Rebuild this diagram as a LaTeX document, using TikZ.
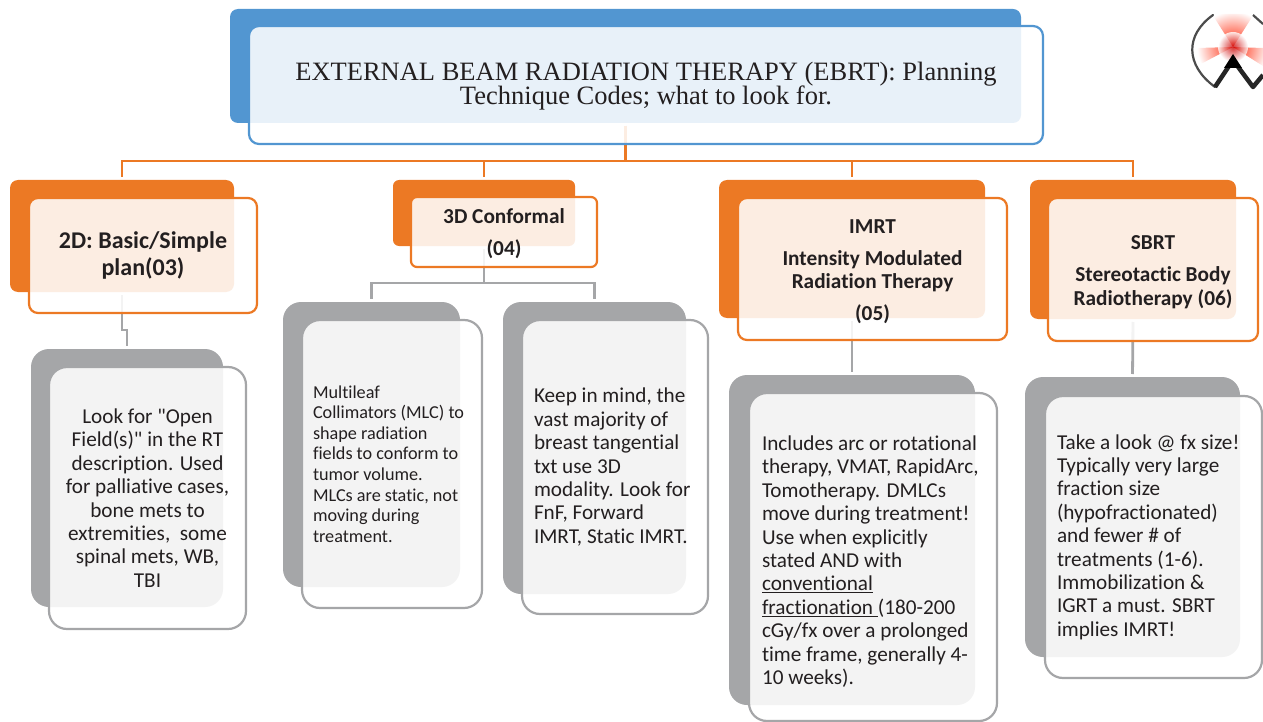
\documentclass[tikz,border=0pt]{standalone}
\usepackage{fontspec}
\newfontfamily\bodyfont[Ligatures=NoCommon,WordSpace={0.65,0,0}]{Carlito}
\newfontfamily\headfont[Ligatures=NoCommon,WordSpace={1,0,0}]{Carlito}
\newfontfamily\titlefont{Liberation Serif}
\definecolor{planblue}{HTML}{5296D1}
\definecolor{planorange}{HTML}{EC7924}
\definecolor{plangrey}{HTML}{A5A6A8}
\definecolor{plantext}{HTML}{231F20}
\tikzset{
  span/.style args={#1/#2/#3/#4}{at={({(#1+#3)/2},{(#2+#4)/2})},
    minimum width={#3-#1}, minimum height={#4-#2}},
  backbox/.style={inner sep=0pt, outer sep=0pt, rounded corners=#1},
  frontbox/.style={inner sep=0pt, outer sep=0pt, fill=white, fill opacity=.87,
    text opacity=1, draw opacity=1, line width=2.2pt, text=plantext},
  headtext/.style={font=\headfont\fontsize{21.3}{23.5}\selectfont\bfseries, align=center},
  bodytext/.style={font=\bodyfont\fontsize{21.2}{23.4}\selectfont},
  link/.style={line width=2.8pt, shorten <=3pt, shorten >=3pt}
}
\begin{document}
\begin{tikzpicture}[x=1pt,y=-1pt]
\useasboundingbox (0,0) rectangle (1263,722);
% Solid boxes at the back
\node[backbox=8pt,fill=planblue,span=230/9/1021/123] (titleback) {};
\node[backbox=8pt,fill=planorange,span=10/180/234/292] (basicback) {};
\node[backbox=6pt,fill=planorange,span=393/180/575/246] (confback) {};
\node[backbox=8pt,fill=planorange,span=719/180/985/318] (imrtback) {};
\node[backbox=8pt,fill=planorange,span=1030/180/1236/319] (sbrtback) {};
\node[backbox=18pt,fill=plangrey,span=31/349/223/607] (openback) {};
\node[backbox=18pt,fill=plangrey,span=283/302/460/587] (mlcback) {};
\node[backbox=18pt,fill=plangrey,span=503/302/686/594] (keepback) {};
\node[backbox=18pt,fill=plangrey,span=729/375/975/705] (arcback) {};
\node[backbox=18pt,fill=plangrey,span=1025/377/1240/657] (fxback) {};
% Connectors run under the front boxes
\draw[link,planorange] (titleback.south) -- ++(0,38) -| (basicback.north);
\draw[link,planorange] (titleback.south) -- ++(0,38) -| (confback.north);
\draw[link,planorange] (titleback.south) -- ++(0,38) -| (imrtback.north);
\draw[link,planorange] (titleback.south) -- ++(0,38) -| (sbrtback.north);
\draw[link,plangrey] (basicback.south) -- ++(0,38) -| (openback.north);
\draw[link,plangrey] (confback.south) -- ++(0,37) -| (mlcback.north);
\draw[link,plangrey] (confback.south) -- ++(0,37) -| (keepback.north);
\draw[link,plangrey] (imrtback.south) -- (arcback.north);
\draw[link,plangrey] (sbrtback.south) -- (fxback.north);
% Front boxes with the texts
\node[frontbox,draw=planblue,rounded corners=10pt,span=249/26/1043/144,
  font=\titlefont\fontsize{26.5}{24.5}\selectfont,align=center] (titlefront)
  {\rule{0pt}{21pt}EXTERNAL BEAM RADIATION THERAPY (EBRT): Planning\\Technique Codes; what to look for.};
\node[frontbox,draw=planorange,rounded corners=9pt,span=29/198/257/313,
  font=\headfont\fontsize{24}{27}\selectfont\bfseries,align=center] (basicfront)
  {2D: Basic/Simple\\plan(03)};
\node[frontbox,draw=planorange,rounded corners=6pt,span=411/197/597/267,headtext] (conffront)
  {\rule{0pt}{19pt}3D Conformal\\[8.5pt](04)};
\node[frontbox,draw=planorange,rounded corners=9pt,span=738/198/1007/340,headtext] (imrtfront)
  {\rule{0pt}{19pt}IMRT\\[8.5pt]Intensity Modulated\\Radiation Therapy\\[8.5pt](05)};
\node[frontbox,draw=planorange,rounded corners=9pt,span=1048/198/1258/341,headtext] (sbrtfront)
  {\rule{0pt}{19pt}SBRT\\[8.5pt]Stereotactic Body\\Radiotherapy (06)};
\node[frontbox,draw=plangrey,rounded corners=18pt,span=49/367/246/629,bodytext,align=center] (openfront)
  {Look for "Open\\Field(s)" in the RT\\description. Used\\for palliative cases,\\bone mets to\\extremities,\ \ some\\spinal mets, WB,\\TBI};
\node[frontbox,draw=plangrey,rounded corners=18pt,span=302/320/482/608,text width=158pt,align=flush left,
  font=\bodyfont\fontsize{18.2}{20.6}\selectfont] (mlcfront)
  {Multileaf\\Collimators (MLC) to\\shape radiation\\fields to conform to\\tumor volume.\\MLCs are static, not\\moving during\\treatment.};
\node[frontbox,draw=plangrey,rounded corners=18pt,span=522/320/708/614,bodytext,text width=162pt,align=flush left] (keepfront)
  {Keep in mind, the\\vast majority of\\breast tangential\\txt use 3D\\modality. Look for\\FnF, Forward\\IMRT, Static IMRT.};
\node[frontbox,draw=plangrey,rounded corners=18pt,span=749/393/997/721,bodytext,text width=222pt,align=flush left] (arcfront)
  {\rule{0pt}{24pt}Includes arc or rotational\\therapy, VMAT, RapidArc,\\Tomotherapy. DMLCs\\move during treatment!\\Use when explicitly\\stated AND with\\\underline{conventional}\\\underline{fractionation\ }(180-200\\cGy/fx over a prolonged\\time frame, generally 4-\\10 weeks).};
\node[frontbox,draw=plangrey,rounded corners=18pt,span=1045/396/1262/678,bodytext,text width=193pt,align=flush left] (fxfront)
  {Take a look @ fx size!\\Typically very large\\fraction size\\(hypofractionated)\\and fewer \# of\\treatments (1-6).\\Immobilization \&\\IGRT a must. SBRT\\implies IMRT!};
% Logo in the corner
\begin{scope}
\clip (1233,47) -- (1212,14) -- (1254,14) -- cycle
  (1233,47) -- (1197,48) -- (1197,66) -- cycle
  (1233,47) -- (1263,48) -- (1263,66) -- cycle;
\shade[inner color=red!75!orange,outer color=white] (1233,47) circle (36);
\end{scope}
\shade[inner color=red!80!black,outer color=white,opacity=.8] (1233,47) circle (15);
\draw[line width=2.2pt,black!70,line cap=round] (1213,15) .. controls (1185,35) and (1185,65) .. (1215,87);
\draw[line width=2.2pt,black!70] (1253,15) -- (1263,24);
\draw[line width=4.5pt,black!85,line join=round] (1215,87) -- (1233,60) -- (1253,87) -- (1263,75);
\fill[black] (1233,54) -- (1224,68) -- (1242,68) -- cycle;
\end{tikzpicture}
\end{document}
